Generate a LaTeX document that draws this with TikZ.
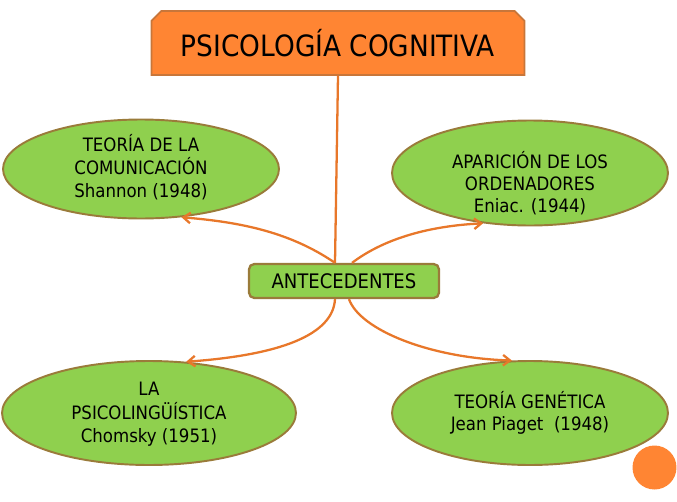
\documentclass[tikz,border=0pt]{standalone}
\usepackage{fontspec}
\setmainfont{DejaVu Sans Condensed}
\usetikzlibrary{shapes.geometric,shapes.misc,arrows.meta}
\definecolor{naranja}{HTML}{FF8533}
\definecolor{bordenaranja}{HTML}{C8763A}
\definecolor{verde}{HTML}{8FD04E}
\definecolor{bordeverde}{HTML}{9A7B3A}
\definecolor{linea}{HTML}{E8772A}
\newcommand{\lineas}[2]{\raisebox{\dimexpr-3.6pt-#1pt\relax}[0pt][0pt]{\begin{tabular}{@{}c@{}}#2\end{tabular}}}
\tikzset{
  tema/.style={ellipse,fill=verde,draw=bordeverde,line width=1.1pt,inner sep=0pt,font=\fontsize{10.5}{12.7}\selectfont},
  flecha/.style={draw=linea,line width=1.3pt,-{Straight Barb[length=4pt,width=6pt]}}
}
\begin{document}
\begin{tikzpicture}[x=.02cm,y=-.02cm]
\useasboundingbox (0,0) rectangle (677,501);
\node[chamfered rectangle,chamfered rectangle corners={north west,north east},chamfered rectangle xsep=2.8pt,chamfered rectangle ysep=2.8pt,fill=naranja,draw=bordenaranja,line width=1pt,minimum width=7.46cm,minimum height=1.28cm,inner sep=0pt,font=\fontsize{16.7}{20}\selectfont] (titulo) at (338,43) {PSICOLOGÍA COGNITIVA};
\node[rounded corners=3pt,rectangle,fill=verde,draw=bordeverde,line width=1.3pt,minimum width=3.8cm,minimum height=.68cm,inner sep=0pt,font=\fontsize{11.4}{13}\selectfont] (antecedentes) at (344,281) {ANTECEDENTES};
\node[tema,minimum width=5.52cm,minimum height=1.98cm] (comunicacion) at (141,169) {\lineas{-.9}{TEORÍA DE LA\\COMUNICACIÓN\\Shannon (1948)}};
\node[tema,minimum width=5.52cm,minimum height=2.1cm] (ordenadores) at (530,173) {\lineas{6.2}{APARICIÓN DE LOS\\ORDENADORES\\Eniac. (1944)}};
\node[tema,minimum width=5.88cm,minimum height=2.08cm] (psicolinguistica) at (149,413) {\lineas{0}{LA\\PSICOLINGÜÍSTICA\\Chomsky (1951)}};
\node[tema,minimum width=5.52cm,minimum height=2.08cm] (genetica) at (530,413) {\lineas{0}{TEORÍA GENÉTICA\\Jean Piaget\ \ (1948)}};
\node[circle,fill=naranja,minimum size=.88cm,inner sep=0pt] (punto) at (654.5,467.5) {};
\draw[draw=linea,line width=1.3pt] (titulo.south) -- ([xshift=-.18cm]antecedentes.north);
\draw[flecha] ([xshift=-.18cm]antecedentes.north) .. controls (290,232) and (240,222) .. (comunicacion.-50);
\draw[flecha] ([xshift=.16cm]antecedentes.north) .. controls (385,238) and (430,226) .. (ordenadores.227);
\draw[flecha] ([xshift=-.18cm]antecedentes.south) .. controls (333,335) and (280,355) .. (psicolinguistica.54);
\draw[flecha] ([xshift=.1cm]antecedentes.south) .. controls (360,330) and (430,358) .. (genetica.109);
\end{tikzpicture}
\end{document}
